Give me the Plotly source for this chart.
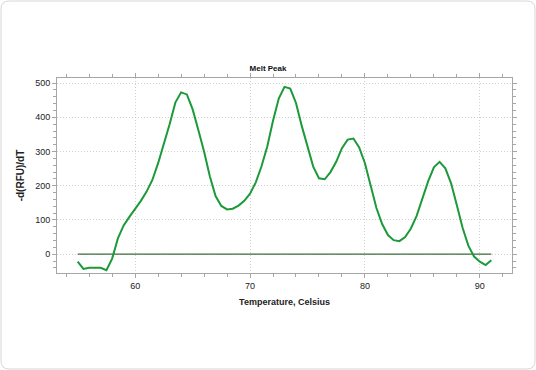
import plotly.graph_objects as go

temperature = [55.0 + 0.5 * i for i in range(73)]
melt_derivative = [
    -22, -43, -40, -40, -40, -47, -13, 46, 84, 109,
    132, 156, 183, 217, 266, 320, 380, 443, 473, 467,
    424, 363, 300, 228, 170, 141, 131, 133, 142, 156,
    177, 210, 257, 315, 390, 455, 489, 484, 442, 375,
    312, 256, 222, 219, 240, 270, 310, 335, 338, 312,
    266, 202, 135, 88, 56, 41, 38, 50, 75, 112,
    160, 213, 254, 270, 251, 207, 143, 77, 25, -7,
    -22, -32, -18,
]
baseline_x = [55.0, 91.0]
baseline_y = [0, 0]

W, H = 536, 370
L, R, T, B = 57, 512, 78, 273

def px(x):
    return (x - L) / (R - L)

def py(y):
    return (B - y) / (B - T)

# rounded card border
x0, y0, x1, y1, r = 1, 1, 535, 369, 8
pts = (
    f"M {px(x0+r)},{py(y0)} L {px(x1-r)},{py(y0)} Q {px(x1)},{py(y0)} {px(x1)},{py(y0+r)} "
    f"L {px(x1)},{py(y1-r)} Q {px(x1)},{py(y1)} {px(x1-r)},{py(y1)} "
    f"L {px(x0+r)},{py(y1)} Q {px(x0)},{py(y1)} {px(x0)},{py(y1-r)} "
    f"L {px(x0)},{py(y0+r)} Q {px(x0)},{py(y0)} {px(x0+r)},{py(y0)} Z"
)

fig = go.Figure()
fig.add_trace(go.Scatter(x=baseline_x, y=baseline_y, mode="lines",
                         line=dict(color="#3d6b3d", width=1.2), hoverinfo="skip"))
fig.add_trace(go.Scatter(x=temperature, y=melt_derivative, mode="lines",
                         line=dict(color="#1c9a3a", width=2)))

font_family = "Liberation Sans, Arial, sans-serif"
axis_common = dict(
    showline=True, linecolor="#a6a6a6", linewidth=1, mirror="ticks",
    ticks="outside", ticklen=4, tickcolor="#a6a6a6", tickwidth=1,
    showgrid=True, gridcolor="#cfcfcf", griddash="1px,2px", gridwidth=1,
    zeroline=False,
    tickfont=dict(family=font_family, size=9, color="#222"),
)

fig.update_layout(
    width=W, height=H,
    margin=dict(l=L, r=W - R, t=T, b=H - B),
    paper_bgcolor="white", plot_bgcolor="white",
    showlegend=False,
    title=dict(text="<b>Melt Peak</b>", x=(268) / W, xanchor="center",
               y=1 - 68 / H, yanchor="middle",
               font=dict(family=font_family, size=8, color="#111")),
    xaxis=dict(range=[53.2, 92.8], tick0=0, dtick=10,
               minor=dict(dtick=2, ticks="outside", ticklen=3, tickcolor="#a6a6a6", showgrid=False),
               title=dict(text="<b>Temperature, Celsius</b>", standoff=8,
                          font=dict(family=font_family, size=9, color="#222")),
               **axis_common),
    yaxis=dict(range=[-55, 515], tick0=0, dtick=100,
               minor=dict(dtick=20, ticks="outside", ticklen=3, tickcolor="#a6a6a6", showgrid=False),
               title=dict(text="<b>-d(RFU)/dT</b>", standoff=8,
                          font=dict(family=font_family, size=10, color="#222")),
               **axis_common),
    shapes=[dict(type="path", xref="paper", yref="paper", path=pts,
                 line=dict(color="#d6d6d6", width=1), layer="below")],
)

fig.write_html("out.html", config={"displayModeBar": False},
               post_script="document.body.style.margin='0';document.body.style.overflow='hidden';")
